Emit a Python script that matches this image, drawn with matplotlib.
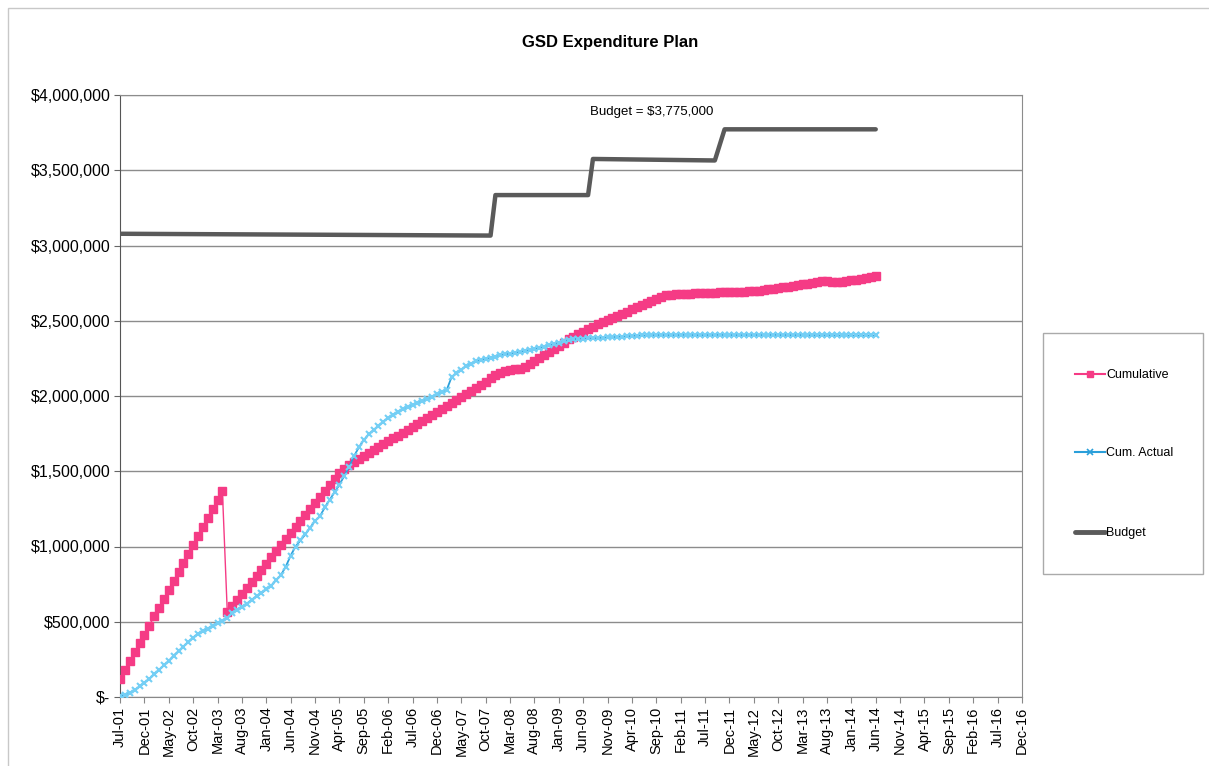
import matplotlib.pyplot as plt
from matplotlib.patches import Rectangle
from matplotlib.ticker import FuncFormatter
from matplotlib.lines import Line2D
import numpy as np

# values, in thousands of dollars, one per month from Jul-01
cumulative = [117, 177, 236, 296, 356, 415, 475, 535, 594, 654, 714, 773, 833, 893, 952, 1012, 1072, 1131,
              1191, 1251, 1310, 1370,
              567, 607, 647, 687, 727, 767, 807, 847, 887, 927, 967, 1007, 1047, 1087, 1127, 1167, 1207,
              1247, 1287, 1327, 1367, 1407, 1447, 1487,
              1515, 1540, 1560, 1580, 1600, 1619, 1639, 1659, 1678, 1698, 1718, 1737, 1757, 1777, 1796,
              1816, 1836, 1855, 1875, 1895, 1914, 1934, 1954, 1973, 1993, 2013, 2033, 2055, 2075, 2095,
              2117, 2138, 2152, 2168, 2175, 2178, 2182, 2190, 2210, 2235, 2255, 2272, 2290, 2310, 2330,
              2355, 2378, 2395, 2412, 2428, 2445, 2460, 2478,
              2492, 2506, 2520, 2533, 2547, 2561, 2575, 2589, 2602, 2616, 2630, 2644, 2658, 2668, 2672,
              2675, 2677, 2679, 2681, 2683, 2684, 2685, 2686, 2687, 2688, 2689, 2690,
              2691, 2692, 2693, 2695, 2697, 2700, 2704, 2708, 2712, 2717, 2722, 2727, 2732, 2737, 2742,
              2747, 2752, 2757,
              2761, 2762, 2760, 2758, 2760, 2764, 2769, 2774, 2780, 2786, 2792, 2799]

cum_actual = [5, 15, 28, 45, 70, 95, 120, 150, 180, 210, 240, 275, 305, 335, 365, 395, 420, 440, 455, 475,
              495, 505, 525,
              555, 580, 600, 620, 645, 670, 690, 715, 740, 775, 810, 866, 940, 1000, 1040, 1080, 1125,
              1170, 1200, 1260, 1310, 1360, 1410, 1470, 1530, 1600, 1660, 1707,
              1745, 1774, 1800, 1830, 1855, 1875, 1895, 1912, 1925, 1940, 1955, 1968, 1980, 1995, 2010,
              2025, 2040, 2125, 2150, 2175, 2200, 2215, 2230, 2240, 2248, 2255, 2262, 2270, 2276, 2282,
              2288, 2294, 2300, 2306, 2313, 2320, 2328, 2337, 2346, 2355, 2363, 2370, 2376, 2380, 2382,
              2383, 2384, 2385, 2387, 2389, 2391, 2393, 2395, 2397, 2399, 2401, 2402, 2403, 2404, 2405,
              2405, 2405, 2404, 2405, 2405, 2406, 2405, 2405, 2404, 2405, 2405, 2405, 2406, 2405, 2405,
              2405, 2404, 2405, 2405, 2405, 2405, 2405, 2405, 2406, 2405, 2405, 2405, 2404, 2405, 2405,
              2404, 2404, 2403, 2403, 2404, 2403, 2403, 2402, 2402, 2402, 2402, 2402, 2402, 2402, 2402]

# budget only changes at a few months, so keep the break points
budget_month = [0, 76, 77, 96, 97, 122, 124, 155]
budget = [3078, 3066, 3335, 3335, 3575, 3565, 3772, 3772]

tick_labels = ['Jul-01', 'Dec-01', 'May-02', 'Oct-02', 'Mar-03', 'Aug-03', 'Jan-04', 'Jun-04', 'Nov-04',
               'Apr-05', 'Sep-05', 'Feb-06', 'Jul-06', 'Dec-06', 'May-07', 'Oct-07', 'Mar-08', 'Aug-08',
               'Jan-09', 'Jun-09', 'Nov-09', 'Apr-10', 'Sep-10', 'Feb-11', 'Jul-11', 'Dec-11', 'May-12',
               'Oct-12', 'Mar-13', 'Aug-13', 'Jan-14', 'Jun-14', 'Nov-14', 'Apr-15', 'Sep-15', 'Feb-16',
               'Jul-16', 'Dec-16']

PINK = '#F53B85'
CYAN_LINE = '#2A9FDA'
CYAN_MARK = '#74CFF5'
GREY = '#5A5A5A'

plt.rcParams['font.family'] = ['Liberation Sans', 'DejaVu Sans']

fig = plt.figure(figsize=(12.09, 7.66), dpi=100)
W, H = 1209, 766

def fx(px):
    return px / W

def fy(py):
    return 1 - py / H

ax = fig.add_axes([fx(120), fy(697), fx(1022) - fx(120), fy(95) - fy(697)])

months = np.arange(len(cumulative))
cum = np.array(cumulative) * 1000
act = np.array(cum_actual) * 1000
bud = np.array(budget) * 1000

ax.plot(budget_month, bud, color=GREY, lw=3.2, solid_capstyle='round', solid_joinstyle='round',
        zorder=3, label='Budget')
ax.plot(months, cum, color=PINK, lw=1.0, marker='s', ms=5.4, mec=PINK, mfc=PINK, zorder=4,
        label='Cumulative')
ax.plot(months, act, color=CYAN_LINE, lw=1.3, marker='x', ms=5, mew=1.5, mec=CYAN_MARK, zorder=5,
        label='Cum. Actual')

ax.set_xlim(0, 185)
ax.set_ylim(0, 4000000)
ax.set_yticks(np.arange(0, 4000001, 500000))
ax.yaxis.set_major_formatter(FuncFormatter(lambda v, p: '$-' if v == 0 else f'${v:,.0f}'))
ax.set_xticks(np.arange(0, 186, 5))
ax.set_xticklabels(tick_labels, rotation=90, fontsize=10.5)
ax.tick_params(axis='y', labelsize=11.5, length=4, color='#666666', pad=3)
ax.tick_params(axis='x', length=4, color='#888888', pad=3)

ax.grid(axis='y', color='#8C8C8C', lw=1.0, zorder=0)
for side in ['top', 'right']:
    ax.spines[side].set_color('#8C8C8C')
ax.spines['left'].set_color('#555555')
ax.spines['bottom'].set_color('#888888')

ax.text(109, 3890000, 'Budget = $3,775,000', ha='center', va='center', fontsize=9.5)
fig.text(fx(610), fy(43), 'GSD Expenditure Plan', ha='center', va='center', fontsize=12,
         fontweight='bold')

# legend sits in its own box to the right of the plot area
fig.patches.append(Rectangle((fx(1043), fy(574)), fx(1203) - fx(1043), fy(333) - fy(574),
                             transform=fig.transFigure, fill=False, ec='#AAAAAA', lw=1.0))
handles = [
    Line2D([], [], color=PINK, lw=1.5, marker='s', ms=5, mec=PINK),
    Line2D([], [], color=CYAN_LINE, lw=1.5, marker='x', ms=5, mew=1.2, mec=CYAN_LINE),
    Line2D([], [], color=GREY, lw=3.5, solid_capstyle='round'),
]
names = ['Cumulative', 'Cum. Actual', 'Budget']
ypos = [375, 453, 533]
for h, n, yp in zip(handles, names, ypos):
    fig.legend([h], [n], loc='center left', bbox_to_anchor=(fx(1075), fy(yp)), frameon=False,
               fontsize=9, handlelength=2.4, handletextpad=0.1, borderpad=0, borderaxespad=0)

# scan frame around the chart
fig.patches.append(Rectangle((fx(8), fy(770)), fx(1215) - fx(8), fy(8) - fy(770),
                             transform=fig.transFigure, fill=False, ec='#C8C8C8', lw=1.0))

fig.savefig('out.png', dpi=100)
